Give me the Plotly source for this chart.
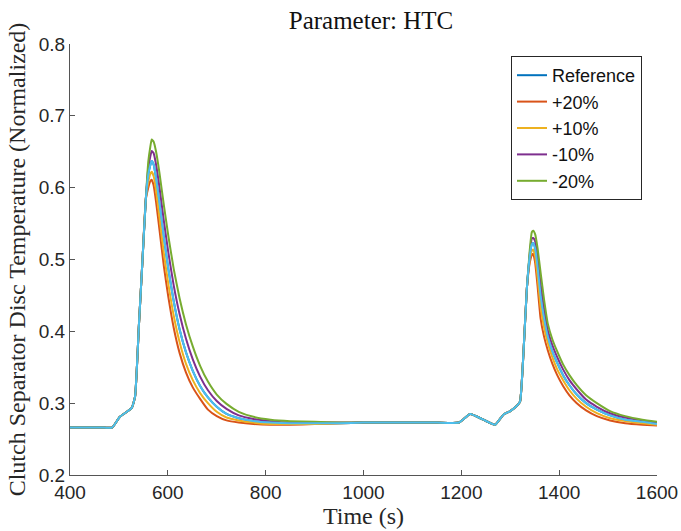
import plotly.graph_objects as go

# Time axis (s)
time_s = [400, 470, 486, 502, 526, 533, 541, 548, 555, 560, 564,
          567, 571, 576, 583, 592, 601, 612, 624, 637, 651,
          666, 682, 700, 720, 745, 775, 810, 850, 900, 950,
          1000, 1050, 1100, 1150, 1195, 1218, 1245, 1269, 1286, 1300,
          1313, 1320, 1327, 1334, 1340, 1344, 1347, 1351, 1356, 1362,
          1369, 1377, 1386, 1396, 1408, 1421, 1436, 1455, 1477, 1504,
          1535, 1570, 1600]

reference = [0.266, 0.266, 0.266, 0.281, 0.293, 0.309, 0.410, 0.497, 0.584,
             0.618, 0.631, 0.637, 0.632, 0.613, 0.578, 0.530, 0.487,
             0.442, 0.403, 0.371, 0.345, 0.324, 0.308, 0.295, 0.285,
             0.279, 0.275, 0.273, 0.272, 0.272, 0.272, 0.273, 0.273,
             0.273, 0.273, 0.273, 0.285, 0.277, 0.270, 0.284, 0.289,
             0.296, 0.302, 0.370, 0.460, 0.505, 0.521, 0.523, 0.515,
             0.489, 0.450, 0.419, 0.392, 0.372, 0.356, 0.339, 0.325,
             0.312, 0.300, 0.291, 0.283, 0.277, 0.274, 0.271]

plus20 = [0.266, 0.266, 0.266, 0.281, 0.293, 0.309, 0.410, 0.497, 0.584,
          0.600, 0.609, 0.611, 0.603, 0.580, 0.541, 0.490, 0.448,
          0.405, 0.370, 0.343, 0.322, 0.306, 0.291, 0.282, 0.276,
          0.273, 0.271, 0.270, 0.270, 0.271, 0.272, 0.273, 0.273,
          0.273, 0.273, 0.273, 0.285, 0.277, 0.270, 0.284, 0.289,
          0.296, 0.302, 0.370, 0.460, 0.496, 0.506, 0.508, 0.495,
          0.462, 0.418, 0.393, 0.373, 0.355, 0.339, 0.324, 0.311,
          0.300, 0.290, 0.282, 0.276, 0.272, 0.270, 0.269]

plus10 = [0.266, 0.266, 0.266, 0.281, 0.293, 0.309, 0.410, 0.497, 0.584,
          0.608, 0.619, 0.622, 0.616, 0.596, 0.558, 0.508, 0.466,
          0.422, 0.385, 0.355, 0.332, 0.314, 0.300, 0.288, 0.280,
          0.276, 0.273, 0.271, 0.271, 0.271, 0.272, 0.273, 0.273,
          0.273, 0.273, 0.273, 0.285, 0.277, 0.270, 0.284, 0.289,
          0.296, 0.302, 0.370, 0.460, 0.500, 0.512, 0.514, 0.504,
          0.475, 0.434, 0.406, 0.383, 0.364, 0.347, 0.332, 0.318,
          0.306, 0.295, 0.286, 0.279, 0.275, 0.272, 0.270]

minus10 = [0.266, 0.266, 0.266, 0.281, 0.293, 0.309, 0.410, 0.497, 0.584,
           0.627, 0.643, 0.651, 0.648, 0.632, 0.600, 0.553, 0.510,
           0.464, 0.424, 0.390, 0.361, 0.337, 0.318, 0.303, 0.292,
           0.283, 0.278, 0.275, 0.273, 0.273, 0.273, 0.273, 0.273,
           0.273, 0.273, 0.273, 0.285, 0.277, 0.270, 0.284, 0.289,
           0.296, 0.302, 0.370, 0.460, 0.509, 0.529, 0.530, 0.525,
           0.502, 0.466, 0.432, 0.401, 0.381, 0.364, 0.347, 0.332,
           0.319, 0.305, 0.295, 0.286, 0.280, 0.276, 0.272]

minus20 = [0.266, 0.266, 0.266, 0.281, 0.293, 0.309, 0.410, 0.497, 0.584,
           0.636, 0.656, 0.667, 0.664, 0.650, 0.620, 0.575, 0.533,
           0.487, 0.446, 0.410, 0.379, 0.352, 0.330, 0.312, 0.299,
           0.288, 0.281, 0.277, 0.275, 0.274, 0.273, 0.273, 0.273,
           0.273, 0.273, 0.273, 0.285, 0.277, 0.270, 0.284, 0.289,
           0.296, 0.302, 0.370, 0.460, 0.514, 0.538, 0.540, 0.535,
           0.515, 0.482, 0.445, 0.410, 0.389, 0.372, 0.354, 0.339,
           0.325, 0.311, 0.300, 0.289, 0.282, 0.277, 0.274]

series_names = ["Reference", "+20%", "+10%", "-10%", "-20%"]
series_values = [reference, plus20, plus10, minus10, minus20]
series_colors = ["#0072BD", "#D95319", "#EDB120", "#7E2F8E", "#77AC30"]
overlay_color = "#4DBEEE"

x_ticks = [400, 600, 800, 1000, 1200, 1400, 1600]
y_ticks = [0.2, 0.3, 0.4, 0.5, 0.6, 0.7, 0.8]

fig = go.Figure()
for name, vals, col in zip(series_names, series_values, series_colors):
    fig.add_trace(go.Scatter(x=time_s, y=vals, mode="lines", name=name,
                             line=dict(color=col, width=2, shape="spline", smoothing=0.4)))
fig.add_trace(go.Scatter(x=time_s, y=reference, mode="lines", name="Reference overlay",
                         showlegend=False,
                         line=dict(color=overlay_color, width=2, shape="spline", smoothing=0.4)))

axis_col = "#555555"
serif = "Liberation Serif"
sans = "Liberation Sans, Arial, sans-serif"

fig.update_layout(
    width=681, height=531,
    margin=dict(l=70, r=24, t=44, b=56, autoexpand=False),
    paper_bgcolor="white", plot_bgcolor="white",
    title=dict(text="Parameter: HTC", x=(371 - 70) / 587, xref="paper", y=1 - 20 / 531,
               yref="container", xanchor="center", yanchor="middle",
               font=dict(family=serif, size=25, color="#111111")),
    xaxis=dict(range=[400, 1600], tickvals=x_ticks, ticks="inside", ticklen=5,
               tickcolor=axis_col, showline=True, linecolor=axis_col, linewidth=1,
               mirror=False, showgrid=False, zeroline=False,
               tickfont=dict(family=sans, size=19, color="#262626"),
               title=dict(text="Time (s)", standoff=3,
                          font=dict(family=serif, size=24, color="#262626"))),
    yaxis=dict(range=[0.2, 0.8], tickvals=y_ticks, tickformat=".1f", ticks="inside",
               ticklen=5, tickcolor=axis_col, showline=True, linecolor=axis_col,
               linewidth=1, mirror=False, showgrid=False, zeroline=False,
               tickfont=dict(family=sans, size=19, color="#262626"),
               title=dict(text="Clutch Separator Disc Temperature (Normalized)", standoff=6,
                          font=dict(family=serif, size=24, color="#262626"))),
    legend=dict(x=(511 - 70) / 587, y=(475 - 56) / 431, xanchor="left", yanchor="top",
                bgcolor="white", bordercolor="#262626", borderwidth=1,
                font=dict(family=sans, size=18, color="#111111"),
                itemwidth=30, tracegroupgap=0),
    showlegend=True,
)

fig.write_html("out.html")
